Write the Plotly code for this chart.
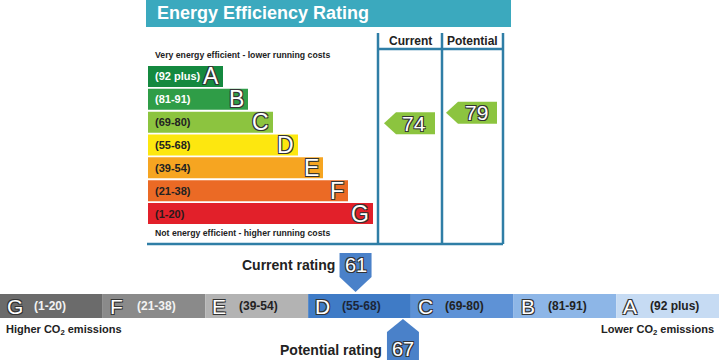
import plotly.graph_objects as go

# ---------------- data ----------------
band_letters = ["A", "B", "C", "D", "E", "F", "G"]
band_ranges = ["(92 plus)", "(81-91)", "(69-80)", "(55-68)", "(39-54)", "(21-38)", "(1-20)"]
band_low = [92, 81, 69, 55, 39, 21, 1]
band_high = [100, 91, 80, 68, 54, 38, 20]
energy_current = 74
energy_potential = 79
co2_current = 61
co2_potential = 67

# ---------------- styles ----------------
eer_colors = ["#14893f", "#2f9d47", "#8cc43f", "#fde70f", "#f6a521", "#eb6a25", "#e2202a"]
eer_label_colors = ["#ffffff", "#ffffff", "#222222", "#222222", "#222222", "#222222", "#2a1a1a"]
co2_colors = ["#c6dbf3", "#8db6e7", "#5e92d6", "#3f7bc6", "#b3b3b3", "#8a8a8a", "#6b6b6b"]  # A..G
co2_label_colors = ["#222222", "#222222", "#222222", "#1c2638", "#222222", "#f2f2f2", "#f2f2f2"]
marker_blue = "#4a81c9"
line_col = "#2f7ea6"
title_col = "#3ba9be"
FONT = "Liberation Sans, Arial, sans-serif"
OUTLINE = "-1px -1px 0 #333, 1px -1px 0 #333, -1px 1px 0 #333, 1px 1px 0 #333"

W, H = 720, 360


def fx(p):
    return p / W


def fy(p):
    return 1 - p / H


def band_of(v):
    for i in range(len(band_letters)):
        if band_low[i] <= v <= band_high[i]:
            return i
    return len(band_letters) - 1


def frac(v, i):
    return (v - band_low[i]) / (band_high[i] - band_low[i])


n = len(band_letters)
fig = go.Figure()

# top rating bars (A at top)
bar_len = [3 + i for i in range(n)]
fig.add_trace(go.Bar(
    x=bar_len, y=list(range(n)), orientation="h", width=0.92,
    marker=dict(color=eer_colors, line=dict(width=0)),
    hoverinfo="skip", showlegend=False, xaxis="x", yaxis="y"))

# bottom CO2 strip (G at left)
co2_order = list(range(n))[::-1]
fig.add_trace(go.Bar(
    x=[j + 0.5 for j in range(n)], y=[1] * n, width=1,
    marker=dict(color=[co2_colors[i] for i in co2_order], line=dict(width=0)),
    hoverinfo="skip", showlegend=False, xaxis="x2", yaxis="y2"))

shapes = []
ann = []

# title bar
shapes.append(dict(type="rect", xref="paper", yref="paper", x0=fx(146), x1=fx(511),
                   y0=fy(27), y1=fy(0), fillcolor=title_col, line=dict(width=0), layer="below"))
ann.append(dict(xref="paper", yref="paper", x=fx(155), y=fy(13.5), xanchor="left", yanchor="middle",
                text="<b>Energy Efficiency Rating</b>", showarrow=False,
                font=dict(family=FONT, size=18, color="white")))

# table lines
for xp in [378, 442, 503]:
    shapes.append(dict(type="line", xref="paper", yref="paper", x0=fx(xp), x1=fx(xp),
                       y0=fy(33), y1=fy(244), line=dict(color=line_col, width=2.5)))
shapes.append(dict(type="line", xref="paper", yref="paper", x0=fx(378), x1=fx(503),
                   y0=fy(49), y1=fy(49), line=dict(color=line_col, width=2.5)))
shapes.append(dict(type="line", xref="paper", yref="paper", x0=fx(147), x1=fx(503),
                   y0=fy(244), y1=fy(244), line=dict(color=line_col, width=2.5)))

for txt, xp in [("Current", 410), ("Potential", 472.5)]:
    ann.append(dict(xref="paper", yref="paper", x=fx(xp), y=fy(41), xanchor="center", yanchor="middle",
                    text="<b>%s</b>" % txt, showarrow=False, font=dict(family=FONT, size=12, color="#222")))

ann.append(dict(xref="paper", yref="paper", x=fx(153), y=fy(55), xanchor="left", yanchor="middle",
                text="<b>Very energy efficient - lower running costs</b>", showarrow=False,
                font=dict(family=FONT, size=8.7, color="#222")))
ann.append(dict(xref="paper", yref="paper", x=fx(153), y=fy(233), xanchor="left", yanchor="middle",
                text="<b>Not energy efficient - higher running costs</b>", showarrow=False,
                font=dict(family=FONT, size=8.7, color="#222")))

# band labels and letters
for i in range(n):
    ann.append(dict(xref="paper", yref="y", x=fx(153), y=i, xanchor="left", yanchor="middle",
                    text="<b>%s</b>" % band_ranges[i], showarrow=False,
                    font=dict(family=FONT, size=11, color=eer_label_colors[i])))
    ann.append(dict(xref="x", yref="y", x=bar_len[i], xshift=-2, y=i, xanchor="right", yanchor="middle",
                    text=band_letters[i], showarrow=False,
                    font=dict(family=FONT, size=23, color="white", shadow=OUTLINE)))

# current / potential arrows
for v, right in [(energy_current, 435), (energy_potential, 497)]:
    i = band_of(v)
    yy = i + 0.5 - frac(v, i)
    shapes.append(dict(type="path", xref="paper", yref="y", xsizemode="pixel", ysizemode="pixel",
                       xanchor=fx(right), yanchor=yy,
                       path="M0,11 L-39,11 L-51,0 L-39,-11 L0,-11 Z",
                       fillcolor=eer_colors[i], line=dict(width=0)))
    ann.append(dict(xref="paper", yref="y", x=fx(right - 21), y=yy, xanchor="center", yanchor="middle",
                    text=str(v), showarrow=False,
                    font=dict(family=FONT, size=21, color="white", shadow=OUTLINE)))

# bottom strip labels
for j, i in enumerate(co2_order):
    ann.append(dict(xref="x2", yref="y2", x=j, xshift=5, y=0.5, xanchor="left", yanchor="middle",
                    text=band_letters[i], showarrow=False,
                    font=dict(family=FONT, size=21, color="white", shadow=OUTLINE)))
    ann.append(dict(xref="x2", yref="y2", x=j, xshift=32, y=0.5, xanchor="left", yanchor="middle",
                    text="<b>%s</b>" % band_ranges[i], showarrow=False,
                    font=dict(family=FONT, size=12, color=co2_label_colors[i])))

ann.append(dict(xref="paper", yref="paper", x=fx(4), y=fy(330), xanchor="left", yanchor="middle",
                text="<b>Higher CO<sub>2</sub> emissions</b>", showarrow=False,
                font=dict(family=FONT, size=11, color="#222")))
ann.append(dict(xref="paper", yref="paper", x=fx(716), y=fy(330), xanchor="right", yanchor="middle",
                text="<b>Lower CO<sub>2</sub> emissions</b>", showarrow=False,
                font=dict(family=FONT, size=11, color="#222")))

# CO2 markers
def co2_pos(v):
    i = band_of(v)
    return (n - 1 - i) + frac(v, i)


pc = co2_pos(co2_current)
shapes.append(dict(type="path", xref="x2", yref="paper", xsizemode="pixel", ysizemode="pixel",
                   xanchor=pc, yanchor=fy(294),
                   path="M0,2 L16,17 L16,41 L-16,41 L-16,17 Z",
                   fillcolor=marker_blue, line=dict(width=0)))
ann.append(dict(xref="x2", yref="paper", x=pc, y=fy(265), xanchor="center", yanchor="middle",
                text=str(co2_current), showarrow=False,
                font=dict(family=FONT, size=20, color="white", shadow=OUTLINE)))
ann.append(dict(xref="x2", yref="paper", x=pc, xshift=-19, y=fy(265), xanchor="right", yanchor="middle",
                text="<b>Current rating</b>", showarrow=False,
                font=dict(family=FONT, size=14, color="#222")))

pp = co2_pos(co2_potential)
shapes.append(dict(type="path", xref="x2", yref="paper", xsizemode="pixel", ysizemode="pixel",
                   xanchor=pp, yanchor=fy(318),
                   path="M0,-1 L16,-14 L16,-46 L-16,-46 L-16,-14 Z",
                   fillcolor=marker_blue, line=dict(width=0)))
ann.append(dict(xref="x2", yref="paper", x=pp, y=fy(349), xanchor="center", yanchor="middle",
                text=str(co2_potential), showarrow=False,
                font=dict(family=FONT, size=20, color="white", shadow=OUTLINE)))
ann.append(dict(xref="x2", yref="paper", x=pp, xshift=-19, y=fy(350), xanchor="right", yanchor="middle",
                text="<b>Potential rating</b>", showarrow=False,
                font=dict(family=FONT, size=14, color="#222")))

fig.update_layout(
    width=W, height=H, margin=dict(l=0, r=0, t=0, b=0),
    paper_bgcolor="white", plot_bgcolor="rgba(0,0,0,0)",
    hovermode=False, showlegend=False,
    xaxis=dict(domain=[fx(148), fx(503)], range=[0, 14.2], visible=False, fixedrange=True, anchor="y"),
    yaxis=dict(domain=[fy(225), fy(65)], range=[6.5, -0.5], visible=False, fixedrange=True, anchor="x"),
    xaxis2=dict(domain=[0, fx(719)], range=[0, 7], visible=False, fixedrange=True, anchor="y2"),
    yaxis2=dict(domain=[fy(318), fy(294)], range=[0, 1], visible=False, fixedrange=True, anchor="x2"),
    shapes=shapes, annotations=ann,
)

fig.write_html("out.html", config={"displayModeBar": False},
               post_script="document.body.style.margin='0';document.body.style.overflow='hidden';")
